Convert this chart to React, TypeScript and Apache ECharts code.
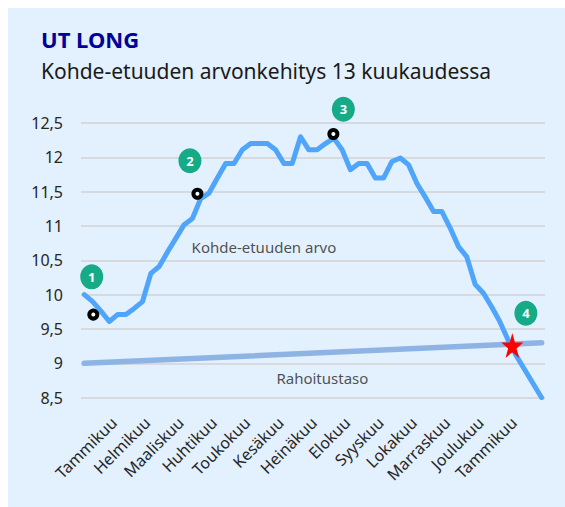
import React, { useEffect, useRef } from "react";
import * as echarts from "echarts";

const months = [
  "Tammikuu", "Helmikuu", "Maaliskuu", "Huhtikuu", "Toukokuu", "Kesäkuu",
  "Heinäkuu", "Elokuu", "Syyskuu", "Lokakuu", "Marraskuu", "Joulukuu", "Tammikuu",
];

// weekly values of the underlying asset (index 0..55)
const assetValues = [
  10.0, 9.9, 9.76, 9.61, 9.71, 9.71, 9.8, 9.9, 10.31, 10.41,
  10.62, 10.82, 11.02, 11.11, 11.4, 11.48, 11.7, 11.91, 11.91, 12.11,
  12.2, 12.2, 12.2, 12.11, 11.91, 11.91, 12.3, 12.11, 12.11, 12.2,
  12.28, 12.11, 11.82, 11.91, 11.91, 11.7, 11.7, 11.94, 11.99, 11.89,
  11.62, 11.42, 11.21, 11.21, 10.97, 10.7, 10.55, 10.15, 10.02, 9.82,
  9.6, 9.33, 9.1, 8.9, 8.7, 8.5,
];

// funding level: start and end
const fundingX = [0, 55];
const fundingY = [9.0, 9.3];

// black observation dots
const dotX = [1.08, 13.6, 29.95];
const dotY = [9.71, 11.47, 12.34];

// numbered badges
const badgeLabels = ["1", "2", "3", "4"];
const badgeX = [0.89, 12.7, 31.15, 53.1];
const badgeY = [10.26, 11.95, 12.7, 9.73];

// star (crossing point)
const starX = [51.47];
const starY = [9.26];

// annotation texts
const annoTexts = ["Kohde-etuuden arvo", "Rahoitustaso"];
const annoX = [12.9, 23.1];
const annoY = [10.7, 8.79];

const yTicks = { min: 8.5, max: 12.5, interval: 0.5 };

const FONT = "Noto Sans";
const TEXT = "#262626";

const starPath =
  "path://M50,0 L61.8,35.3 L100,35.3 L69.1,57.1 L80.9,92.7 L50,70.9 L19.1,92.7 L30.9,57.1 L0,35.3 L38.2,35.3 Z";

export default function App() {
  const ref = useRef<HTMLDivElement>(null);
  useEffect(() => {
    if (!ref.current) return;
    const chart = echarts.init(ref.current, null, { renderer: "svg" });
    const option: any = {
      animation: false,
      backgroundColor: "#E3F0FD",
      textStyle: { fontFamily: FONT },
      title: [
        {
          text: "UT LONG",
          left: 33,
          top: 20,
          padding: 0,
          textStyle: { fontFamily: FONT, fontSize: 22, fontWeight: "bold", color: "#00009A" },
        },
        {
          text: "Kohde-etuuden arvonkehitys 13 kuukaudessa",
          left: 33,
          top: 52,
          padding: 0,
          textStyle: { fontFamily: FONT, fontSize: 21, fontWeight: "normal", color: "#1a1a1a" },
        },
      ],
      grid: [
        { left: 73, right: 20, top: 115, bottom: 109.3 },
        { left: 106, right: 51, top: 115, bottom: 109.3 },
      ],
      xAxis: [
        { type: "value", gridIndex: 0, min: -0.4, max: 55.4, show: false },
        {
          type: "category",
          gridIndex: 1,
          data: months,
          boundaryGap: false,
          axisLine: { show: false },
          axisTick: { show: false },
          splitLine: { show: false },
          axisLabel: {
            rotate: 45,
            interval: 0,
            margin: 22,
            fontSize: 16,
            fontFamily: FONT,
            color: TEXT,
          },
        },
      ],
      yAxis: [
        {
          type: "value",
          gridIndex: 0,
          min: yTicks.min,
          max: yTicks.max,
          interval: yTicks.interval,
          axisLine: { show: false },
          axisTick: { show: false },
          splitLine: { lineStyle: { color: "#D6D9DD", width: 2 } },
          axisLabel: {
            margin: 18,
            fontSize: 16,
            fontFamily: FONT,
            color: TEXT,
            formatter: (v: number) => String(v).replace(".", ","),
          },
        },
        { type: "value", gridIndex: 1, min: 0, max: 1, show: false },
      ],
      series: [
        {
          type: "line",
          xAxisIndex: 1,
          yAxisIndex: 1,
          data: [],
          silent: true,
        },
        {
          type: "line",
          name: "Rahoitustaso",
          data: fundingX.map((x, i) => [x, fundingY[i]]),
          symbol: "none",
          lineStyle: { color: "#8DB4E4", width: 5.5, cap: "round" },
        },
        {
          type: "line",
          name: "Kohde-etuuden arvo",
          data: assetValues.map((v, i) => [i, v]),
          symbol: "none",
          lineStyle: { color: "#4FA5FA", width: 5, cap: "round", join: "round" },
        },
        {
          type: "scatter",
          clip: false,
          data: starX.map((x, i) => [x, starY[i]]),
          symbol: starPath,
          symbolSize: [22, 25],
          itemStyle: { color: "#FF0000", opacity: 1 },
          z: 5,
        },
        {
          type: "scatter",
          clip: false,
          data: dotX.map((x, i) => [x, dotY[i]]),
          symbol: "circle",
          symbolSize: 8,
          itemStyle: { color: "#ffffff", borderColor: "#000000", borderWidth: 4, opacity: 1 },
          z: 5,
        },
        {
          type: "scatter",
          clip: false,
          data: badgeX.map((x, i) => ({ value: [x, badgeY[i]], name: badgeLabels[i] })),
          symbol: "circle",
          symbolSize: [23, 25],
          itemStyle: { color: "#17AA86", opacity: 1 },
          label: {
            show: true,
            position: "inside",
            formatter: (p: any) => p.name,
            color: "#ffffff",
            fontWeight: "bold",
            fontSize: 13,
            fontFamily: FONT,
          },
          z: 5,
        },
        {
          type: "scatter",
          clip: false,
          data: annoX.map((x, i) => ({ value: [x, annoY[i]], name: annoTexts[i] })),
          symbol: "circle",
          symbolSize: 0,
          label: {
            show: true,
            position: "right",
            distance: 0,
            formatter: (p: any) => p.name,
            color: TEXT,
            fontSize: 15,
            fontFamily: FONT,
          },
        },
      ],
    };
    chart.setOption(option);
    return () => chart.dispose();
  }, []);
  return (
    <div
      ref={ref}
      style={{ position: "absolute", left: 8, top: 8, width: 557, height: 499 }}
    />
  );
}
